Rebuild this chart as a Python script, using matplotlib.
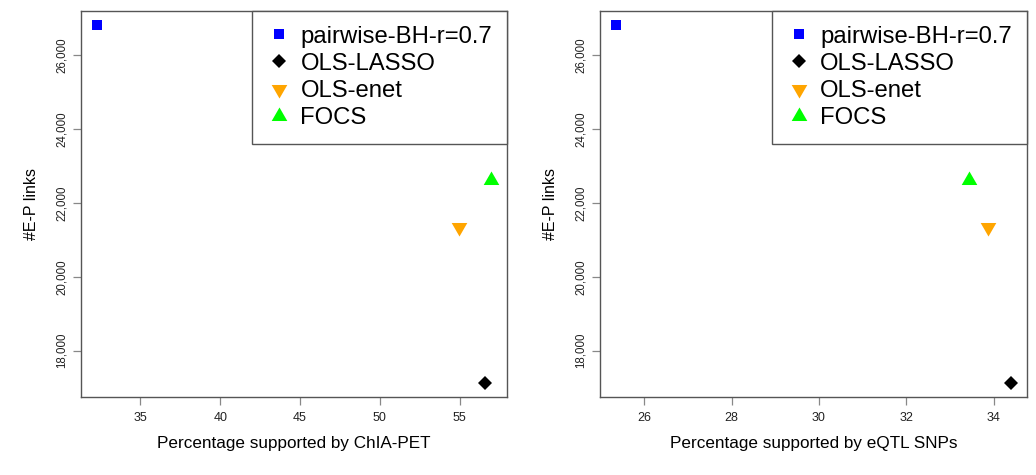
import matplotlib
matplotlib.use("Agg")
import matplotlib.pyplot as plt
from matplotlib.ticker import FuncFormatter

plt.rcParams['font.family'] = ['Liberation Sans', 'DejaVu Sans']

methods = ["pairwise-BH-r=0.7", "OLS-LASSO", "OLS-enet", "FOCS"]
n_links = [26819, 17135, 21341, 22620]
pct_chiapet = [32.27, 56.60, 54.98, 56.97]
pct_eqtl = [25.36, 34.39, 33.86, 33.43]

colors = ["#0000FF", "#000000", "#FFA500", "#00FF00"]
up_tri = [(0, 1), (-0.866, -0.5), (0.866, -0.5)]
down_tri = [(0, -1), (-0.866, 0.5), (0.866, 0.5)]
markers = ["s", "D", down_tri, up_tri]
sizes = [7.2, 7.2, 13, 13]

frame_col = "#555555"


def r_range(vals):
    lo, hi = min(vals), max(vals)
    pad = 0.04 * (hi - lo)
    return lo - pad, hi + pad


fig = plt.figure(figsize=(10.36, 4.75), dpi=100)
ax1 = fig.add_axes([81 / 1036, 78 / 475, 426 / 1036, 386.3 / 475])
ax2 = fig.add_axes([600.3 / 1036, 78 / 475, 426.4 / 1036, 386.3 / 475])

panels = [
    (ax1, pct_chiapet, "Percentage supported by ChIA-PET", [35, 40, 45, 50, 55]),
    (ax2, pct_eqtl, "Percentage supported by eQTL SNPs", [26, 28, 30, 32, 34]),
]

for ax, xs, xlabel, xticks in panels:
    handles = []
    for i in range(len(methods)):
        h, = ax.plot([xs[i]], [n_links[i]], linestyle="none", marker=markers[i],
                     markersize=sizes[i], color=colors[i], markeredgewidth=0,
                     label=methods[i])
        handles.append(h)
    ax.set_xlim(*r_range(xs))
    ax.set_ylim(*r_range(n_links))
    ax.set_xticks(xticks)
    ax.set_yticks([18000, 20000, 22000, 24000, 26000])
    ax.yaxis.set_major_formatter(FuncFormatter(lambda v, p: f"{int(v):,}"))
    ax.tick_params(axis="both", direction="out", length=5.5, width=0.9,
                   color="#888888", labelcolor="#222222")
    ax.tick_params(axis="x", labelsize=9, pad=5)
    ax.tick_params(axis="y", labelsize=8.3, pad=4)
    for lab in ax.get_yticklabels():
        lab.set_rotation(90)
        lab.set_va("center")
    for s in ax.spines.values():
        s.set_color(frame_col)
        s.set_linewidth(1.0)
    ax.set_xlabel(xlabel, fontsize=12.3, labelpad=9)
    ax.set_ylabel("#E-P links", fontsize=11.5, labelpad=12)
    leg = ax.legend(handles=handles, loc="upper right", bbox_to_anchor=(1, 1),
                    borderaxespad=0, fontsize=17.2, frameon=True, fancybox=False,
                    edgecolor=frame_col, framealpha=1, numpoints=1,
                    labelspacing=0.22, borderpad=0.62, handlelength=1.0,
                    handletextpad=0.4)
    leg.get_frame().set_linewidth(1.0)

fig.savefig("out.png", dpi=100, facecolor="white")
